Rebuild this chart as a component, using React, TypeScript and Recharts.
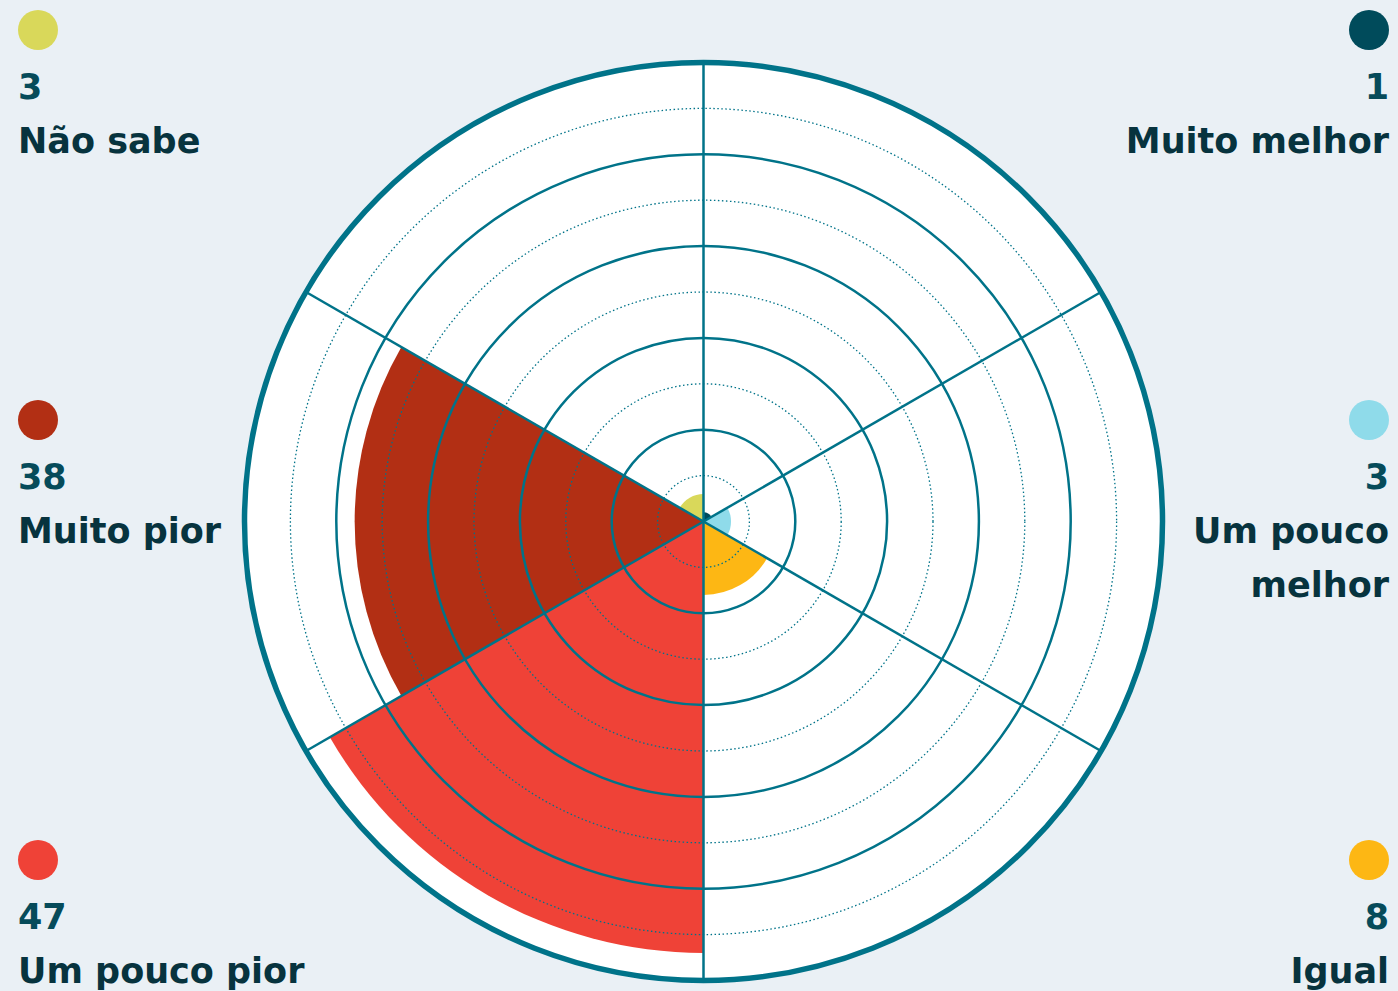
import React from 'react';
import { RadialBarChart, RadialBar, PolarGrid, PolarAngleAxis, PolarRadiusAxis, Cell } from 'recharts';

const categories = ['Muito melhor', 'Um pouco melhor', 'Igual', 'Um pouco pior', 'Muito pior', 'Não sabe'];
const values = [1, 3, 8, 47, 38, 3];
const colors = ['#004b5b', '#8fdbea', '#fdb714', '#ef4237', '#b22f14', '#d9d85a'];
const radiusMax = 50;
const solidTicks = [10, 20, 30, 40, 50];
const dottedTicks = [5, 15, 25, 35, 45];
const spokeAngles = [90, 30, -30, -90, -150, 150];

const legendSide = ['right', 'right', 'right', 'left', 'left', 'left'];
const legendTop = [10, 400, 840, 840, 400, 10];
const legendLines = [['Muito melhor'], ['Um pouco', 'melhor'], ['Igual'], ['Um pouco pior'], ['Muito pior'], ['Não sabe']];

const data = categories.map((name, i) => ({ name, value: values[i], full: radiusMax }));

const GRID = '#007389';
const BG = '#eaf0f5';
const W = 1398;
const H = 991;

const chartProps = {
  width: W,
  height: H,
  cx: 703.5,
  cy: 521.5,
  innerRadius: 0,
  outerRadius: 459,
  startAngle: 30,
  endAngle: -330,
  data,
  layout: 'centric' as const,
  barCategoryGap: 0,
  barGap: 0,
  margin: { top: 0, right: 0, bottom: 0, left: 0 },
};

const layer: React.CSSProperties = { position: 'absolute', left: 0, top: 0 };

function Layer({ ticks, children }: { ticks: number[]; children: React.ReactNode }) {
  return (
    <div style={layer}>
      <RadialBarChart {...chartProps}>
        <PolarAngleAxis type="category" dataKey="name" tick={false} tickLine={false} axisLine={false} />
        <PolarRadiusAxis type="number" domain={[0, radiusMax]} ticks={ticks} tick={false} tickLine={false} axisLine={false} />
        {children}
      </RadialBarChart>
    </div>
  );
}

export default function App() {
  return (
    <div style={{ position: 'absolute', left: 0, top: 0, width: W, height: H, background: BG, overflow: 'hidden', fontFamily: '"DejaVu Sans", sans-serif' }}>
      <style>{'body{margin:0;}'}</style>
      {/* white disc */}
      <Layer ticks={solidTicks}>
        <RadialBar dataKey="full" isAnimationActive={false} fill="#ffffff" />
      </Layer>
      {/* data sectors */}
      <Layer ticks={solidTicks}>
        <RadialBar dataKey="value" isAnimationActive={false}>
          {data.map((d, i) => (
            <Cell key={d.name} fill={colors[i]} />
          ))}
        </RadialBar>
      </Layer>
      {/* dotted rings */}
      <Layer ticks={dottedTicks}>
        <RadialBar dataKey="value" isAnimationActive={false} fill="none" />
        <PolarGrid gridType="circle" radialLines={false} stroke={GRID} strokeWidth={1.3} strokeDasharray="1.5 2.5" />
      </Layer>
      {/* solid rings, spokes and outer border */}
      <Layer ticks={solidTicks}>
        <RadialBar dataKey="value" isAnimationActive={false} fill="none" />
        <PolarGrid gridType="circle" polarAngles={spokeAngles} stroke={GRID} strokeWidth={2.5} />
        <PolarAngleAxis angleAxisId="outer" type="category" dataKey="name" tick={false} tickLine={false} axisLine={{ stroke: GRID, strokeWidth: 5.5 }} axisLineType="circle" />
      </Layer>
      {categories.map((name, i) => {
        const right = legendSide[i] === 'right';
        return (
          <div
            key={name}
            style={{
              position: 'absolute',
              top: legendTop[i],
              [right ? 'right' : 'left']: right ? 9 : 18,
              textAlign: right ? 'right' : 'left',
              display: 'flex',
              flexDirection: 'column',
              alignItems: right ? 'flex-end' : 'flex-start',
            }}
          >
            <div style={{ width: 40, height: 40, borderRadius: 20, background: colors[i] }} />
            <div style={{ marginTop: 10, fontSize: 35, lineHeight: '54px', fontWeight: 700, color: '#064b5a' }}>{values[i]}</div>
            {legendLines[i].map((t) => (
              <div key={t} style={{ fontSize: 35, lineHeight: '54px', fontWeight: 700, color: '#07333e', whiteSpace: 'nowrap' }}>{t}</div>
            ))}
          </div>
        );
      })}
    </div>
  );
}
